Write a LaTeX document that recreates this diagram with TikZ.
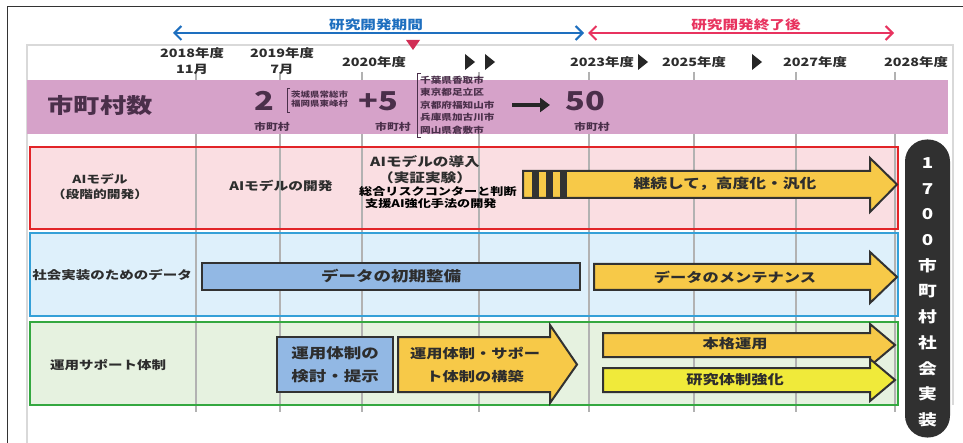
\documentclass[tikz,border=0pt]{standalone}
\usepackage{fontspec}
\setmainfont{Noto Sans CJK JP}[FakeStretch=1.25]
\usetikzlibrary{arrows.meta}
\definecolor{purp}{RGB}{214,162,201}
\definecolor{purptext}{RGB}{74,47,74}
\definecolor{aifill}{RGB}{250,222,226}
\definecolor{aiborder}{RGB}{226,36,40}
\definecolor{datafill}{RGB}{222,240,251}
\definecolor{databorder}{RGB}{52,160,216}
\definecolor{opfill}{RGB}{230,242,224}
\definecolor{opborder}{RGB}{52,168,64}
\definecolor{gridc}{RGB}{178,178,178}
\definecolor{gold}{RGB}{247,201,72}
\definecolor{brightyellow}{RGB}{240,234,58}
\definecolor{boxblue}{RGB}{146,184,228}
\definecolor{darkline}{RGB}{50,50,50}
\definecolor{txt}{RGB}{45,45,45}
\definecolor{blueline}{RGB}{30,111,191}
\definecolor{redline}{RGB}{232,51,95}
\definecolor{pillc}{RGB}{48,48,48}
\newcommand{\fs}[2]{\fontsize{#1}{#2}\selectfont}
\newcommand{\blockarr}[8]{%
  \draw[#1] (#2,#5) -- (#3,#5) -- (#3,#7) -- (#4,{(#5+#6)/2}) -- (#3,#8) -- (#3,#6) -- (#2,#6) -- cycle;}
\tikzset{
  yearlbl/.style={font=\fs{11.5}{16}\bfseries, text=txt, align=center, inner sep=0pt},
  rowlbl/.style={font=\fs{11.5}{15}\bfseries, text=txt, align=center, inner sep=0pt},
  arrtxt/.style={font=\fs{13}{23}\bfseries, text=txt, align=center, inner sep=0pt},
  bigtxt/.style={font=\fs{26}{26}\bfseries, text=purptext, inner sep=0pt},
  smalltxt/.style={font=\fs{9.5}{10}\bfseries, text=purptext, inner sep=0pt},
  blockstyle/.style={draw=darkline, line width=2pt, line join=miter},
  tri/.style={fill=black!85},
  pilltext/.style={font=\fs{15}{15}\bfseries, text=white, inner sep=0pt},
}
\begin{document}
\begin{tikzpicture}[x=1pt,y=-1pt]
\useasboundingbox (0,0) rectangle (963,443);
\fill[white] (0,0) rectangle (963,443);
% outer frame lines
\draw[black!80, line width=1pt] (7,443) -- (7,7) -- (963,7);
\draw[black!15, line width=1.2pt] (27,443) -- (27,45) -- (953,45) -- (953,405);
% top period arrows
\coordinate (bl) at (173,33); \coordinate (br) at (584,33);
\coordinate (rl) at (588,33); \coordinate (rr) at (894,33);
\draw[blueline, line width=2pt, {Straight Barb[length=7pt,width=14pt]}-{Straight Barb[length=7pt,width=14pt]}] (bl) -- (br);
\draw[redline, line width=2pt, {Straight Barb[length=7pt,width=14pt]}-{Straight Barb[length=7pt,width=14pt]}] (rl) -- (rr);
\node[font=\fs{12.5}{13}\bfseries, text=blueline, inner sep=0pt] (lblA) at (376,25) {研究開発期間};
\node[font=\fs{12.5}{13}\bfseries, text=redline, inner sep=0pt] (lblB) at (746,25) {研究開発終了後};
\fill[redline!90!black] (406,40) -- (420,40) -- (413,50) -- cycle;
% row fills
\fill[aifill] (30,147) rectangle (898,229);
\fill[datafill] (30,233) rectangle (898,316);
\fill[opfill] (30,322) rectangle (898,405);
% grid lines
\foreach \x in {196,280,362,479,589,694,796,895}
  \draw[gridc, line width=1.6pt] (\x,72) -- (\x,412);
% purple row
\fill[purp] (27,80) rectangle (948,134);
% row borders
\draw[aiborder, line width=2pt] (30,147) rectangle (898,229);
\draw[databorder, line width=2pt] (30,233) rectangle (898,316);
\draw[opborder, line width=2pt] (30,322) rectangle (898,405);
% year labels
\node[yearlbl] (y18) at (192,61) {2018年度\\11月};
\node[yearlbl] (y19) at (282,61) {2019年度\\7月};
\node[yearlbl] (y20) at (374,62) {2020年度};
\node[yearlbl] (y23) at (602,62) {2023年度};
\node[yearlbl] (y25) at (694,62) {2025年度};
\node[yearlbl] (y27) at (815,62) {2027年度};
\node[yearlbl] (y28) at (916,62) {2028年度};
\fill[tri] (465,54) -- (475,62) -- (465,70) -- cycle;
\fill[tri] (485,54) -- (495,62) -- (485,70) -- cycle;
\fill[tri] (638,54) -- (648,62) -- (638,70) -- cycle;
\fill[tri] (752,54) -- (762,62) -- (752,70) -- cycle;
% purple row content
\node[font=\fs{21}{21}\bfseries, text=purptext, inner sep=0pt] (kazu) at (100,106) {市町村数};
\node[bigtxt] (n2) at (264,101) {2};
\node[smalltxt] (u2) at (272,127) {市町村};
\draw[purptext, line width=0.8pt] (290,88) -- (287,88) -- (287,112) -- (290,112);
\node[font=\fs{7.6}{9}\bfseries, text=purptext, inner sep=0pt, align=left, anchor=west] (m2) at (291,99.5) {茨城県常総市\\福岡県東峰村};
\node[bigtxt] (n5) at (378,101) {+5};
\node[smalltxt] (u5) at (393,127) {市町村};
\draw[purptext, line width=0.8pt] (421,73) -- (417,73) -- (417,137) -- (421,137);
\node[font=\fs{8.5}{12.5}\bfseries, text=purptext, inner sep=0pt, align=left, anchor=west] (m5) at (420,105) {千葉県香取市\\東京都足立区\\京都府福知山市\\兵庫県加古川市\\岡山県倉敷市};
\coordinate (arL) at (512,105); \coordinate (arR) at (550,105);
\draw[black!85, line width=3.5pt, -{Triangle[length=10pt,width=14pt]}] (arL) -- (arR);
\node[bigtxt] (n50) at (585,101) {50};
\node[smalltxt] (u50) at (592,127) {市町村};
% AI row
\node[font=\fs{11}{15}\bfseries, text=txt, align=center, inner sep=0pt] (ailbl) at (100,187) {AIモデル\\（段階的開発）};
\node[font=\fs{11.8}{15}\bfseries, text=txt, inner sep=0pt] (aidev) at (281,186) {AIモデルの開発};
\node[font=\fs{12.5}{16.5}\bfseries, text=txt, align=center, inner sep=0pt] (aiint) at (425,169.5) {AIモデルの導入\\（実証実験）};
\node[font=\fs{10.5}{12}\bfseries, text=black, align=left, inner sep=0pt, anchor=west] (aisub) at (359,198) {総合リスクコンターと判断\\\hspace*{6pt}支援AI強化手法の開発};
\blockarr{blockstyle, fill=gold}{523}{870}{897}{171}{198}{158}{212}
\fill[darkline] (532,171) rectangle (539,198);
\fill[darkline] (546,171) rectangle (553,198);
\fill[darkline] (560,171) rectangle (567,198);
\node[font=\fs{13.4}{14}\bfseries, text=txt, inner sep=0pt] (aicont) at (725,184) {継続して，高度化・汎化};
% data row
\node[font=\fs{11.6}{12}\bfseries, text=txt, inner sep=0pt] (datalbl) at (112,275) {社会実装のためのデータ};
\draw[blockstyle, fill=boxblue] (202,263) rectangle (580,290);
\node[font=\fs{14}{14}\bfseries, text=txt, inner sep=0pt] (datainit) at (391,276) {データの初期整備};
\blockarr{blockstyle, fill=gold}{594}{870}{897}{264}{290}{252}{303}
\node[font=\fs{13}{14}\bfseries, text=txt, inner sep=0pt] (datamaint) at (735,277) {データのメンテナンス};
% operation row
\node[font=\fs{11.6}{12}\bfseries, text=txt, inner sep=0pt] (oplbl) at (108,365) {運用サポート体制};
\draw[blockstyle, fill=boxblue] (277,337) rectangle (393,392);
\node[font=\fs{14}{23}\bfseries, text=txt, align=center, inner sep=0pt] (opexam) at (335,365) {運用体制の\\検討・提示};
\blockarr{blockstyle, fill=gold}{398}{550}{577}{337}{392}{325}{403}
\node[arrtxt] (opbuild) at (475,365) {運用体制・サポー\\ト体制の構築};
\blockarr{blockstyle, fill=gold}{603}{870}{895}{333}{357}{324}{366}
\node[font=\fs{13}{14}\bfseries, text=txt, inner sep=0pt] (honkaku) at (735,344) {本格運用};
\blockarr{blockstyle, fill=brightyellow}{603}{870}{895}{368}{392}{359}{401}
\node[font=\fs{13}{14}\bfseries, text=txt, inner sep=0pt] (kyoka) at (735,380) {研究体制強化};
% right pill
\node[fill=pillc, rounded corners=22pt, minimum width=45pt, minimum height=298pt, inner sep=0pt] (pill) at (927.5,288.5) {};
\foreach \c [count=\i from 0] in {1,7,0,0,市,町,村,社,会,実,装}
  \node[pilltext] (p\i) at (927.5,{163+25.7*\i}) {\c};
\end{tikzpicture}
\end{document}
